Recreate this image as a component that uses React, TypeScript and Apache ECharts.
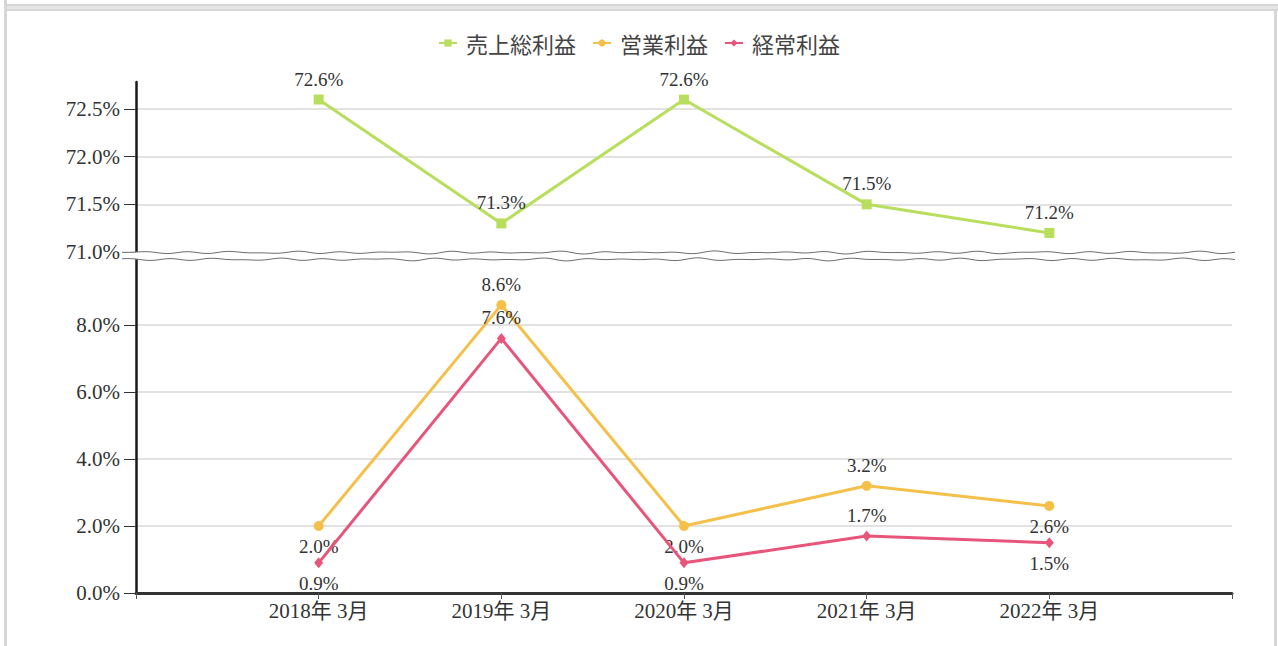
import React, { useEffect, useRef } from "react";
import * as echarts from "echarts";

// ---- data ----
const categories = ["2018年 3月", "2019年 3月", "2020年 3月", "2021年 3月", "2022年 3月"];
const seriesNames = ["売上総利益", "営業利益", "経常利益"];
const grossProfit = [72.6, 71.3, 72.6, 71.5, 71.2];
const operatingProfit = [2.0, 8.6, 2.0, 3.2, 2.6];
const ordinaryProfit = [0.9, 7.6, 0.9, 1.7, 1.5];
const upperTicks = [71.0, 71.5, 72.0, 72.5];
const lowerTicks = [0, 2, 4, 6, 8];

// label placement (style, kept apart from values)
const grossLabelPos = ["top", "top", "top", "top", "top"];
const operatingLabelPos = ["bottom", "top", "bottom", "top", "bottom"];
const ordinaryLabelPos = ["bottom", "top", "bottom", "top", "bottom"];

const COLORS = ["#b7de5c", "#f5c04a", "#e8557a"];
const NUM_FONT = "'Liberation Serif', 'Noto Sans CJK JP', serif";
const CJK_FONT = "'Noto Sans CJK JP', 'Liberation Serif', sans-serif";

// layout
const W = 1278;
const H = 646;
const AXIS_X = 136;
const RIGHT_X = 1232;
const TOP_T = 82;
const TOP_B = 252;
const BOT_T = 258;
const BOT_B = 593;

const pct = (v: number) => v.toFixed(1) + "%";

function padded<T>(arr: T[], fill: T): T[] {
  return [fill, ...arr, fill];
}

function withLabels(values: number[], pos: string[]) {
  return padded(
    values.map((v, i) => ({ value: v, label: { position: pos[i] } })) as any[],
    null as any
  );
}

function wave(y0: number, x0: number, x1: number, phase: number) {
  const pts: number[][] = [];
  for (let x = x0; x <= x1; x += 3) {
    const t = x + phase;
    pts.push([x, y0 + 1.2 * Math.sin(t / 7) * Math.sin(t / 41) + 0.4 * Math.sin(t / 13)]);
  }
  return pts;
}

export default function App() {
  const ref = useRef<HTMLDivElement>(null);
  useEffect(() => {
    document.body.style.margin = "0";
    const chart = echarts.init(ref.current!, null, { renderer: "svg" });
    const xData = padded(categories, "");
    const labelBase = {
      show: true,
      formatter: (p: any) => (p.value == null ? "" : pct(Number(p.value))),
      fontFamily: NUM_FONT,
      fontSize: 19,
      color: "#333",
      distance: 6,
    };
    const upperWave = wave(252.5, 122, 1236, 0);
    const lowerWave = wave(259.4, 122, 1236, 17);
    const band = [...upperWave, ...lowerWave.slice().reverse()];

    const yLabel = {
      formatter: (v: number) => pct(v),
      margin: 16,
      fontFamily: NUM_FONT,
      fontSize: 21,
      color: "#333",
    };

    const option: any = {
      animation: false,
      backgroundColor: "#fff",
      legend: {
        top: 27,
        left: "center",
        itemWidth: 18,
        itemHeight: 9,
        itemGap: 16,
        data: seriesNames,
        textStyle: { fontFamily: CJK_FONT, fontSize: 22, color: "#444", padding: [0, 0, 0, 4] },
      },
      grid: [
        { left: AXIS_X, right: W - RIGHT_X, top: TOP_T, height: TOP_B - TOP_T },
        { left: AXIS_X, right: W - RIGHT_X, top: BOT_T, height: BOT_B - BOT_T },
      ],
      xAxis: [
        {
          type: "category",
          gridIndex: 0,
          data: xData,
          boundaryGap: false,
          show: false,
        },
        {
          type: "category",
          gridIndex: 1,
          data: xData,
          boundaryGap: false,
          axisLine: { show: true, lineStyle: { color: "#333", width: 3 } },
          axisTick: { show: true, length: 6, lineStyle: { color: "#555", width: 1 } },
          axisLabel: {
            interval: 0,
            margin: 7,
            fontFamily: NUM_FONT,
            fontSize: 21,
            color: "#333",
          },
          splitLine: { show: false },
        },
      ],
      yAxis: [
        {
          type: "value",
          gridIndex: 0,
          min: 71,
          max: 72.784,
          interval: 0.5,
          axisLine: { show: true, lineStyle: { color: "#1a1a1a", width: 2.5 } },
          axisTick: {
            show: true,
            length: 12,
            customValues: upperTicks,
            lineStyle: { color: "#333", width: 1 },
          },
          axisLabel: { ...yLabel, customValues: upperTicks },
          splitLine: {
            show: true,
            lineStyle: {
              color: ["rgba(0,0,0,0)", "#d9d9d9", "#d9d9d9", "#d9d9d9", "rgba(0,0,0,0)"],
              width: 1.5,
            },
          },
        },
        {
          type: "value",
          gridIndex: 1,
          min: 0,
          max: 10,
          interval: 2,
          axisLine: { show: true, lineStyle: { color: "#1a1a1a", width: 2.5 } },
          axisTick: {
            show: true,
            length: 12,
            customValues: lowerTicks,
            lineStyle: { color: "#333", width: 1 },
          },
          axisLabel: { ...yLabel, customValues: lowerTicks },
          splitLine: {
            show: true,
            lineStyle: {
              color: ["#d9d9d9", "#d9d9d9", "#d9d9d9", "#d9d9d9", "#d9d9d9", "rgba(0,0,0,0)"],
              width: 1.5,
            },
          },
        },
      ],
      series: [
        {
          name: seriesNames[0],
          type: "line",
          xAxisIndex: 0,
          yAxisIndex: 0,
          data: withLabels(grossProfit, grossLabelPos),
          symbol: "rect",
          symbolSize: 10,
          lineStyle: { color: COLORS[0], width: 3 },
          itemStyle: { color: COLORS[0] },
          label: labelBase,
          z: 3,
        },
        {
          name: seriesNames[1],
          type: "line",
          xAxisIndex: 1,
          yAxisIndex: 1,
          data: withLabels(operatingProfit, operatingLabelPos),
          symbol: "circle",
          symbolSize: 10,
          lineStyle: { color: COLORS[1], width: 3 },
          itemStyle: { color: COLORS[1] },
          label: labelBase,
          z: 3,
        },
        {
          name: seriesNames[2],
          type: "line",
          xAxisIndex: 1,
          yAxisIndex: 1,
          data: withLabels(ordinaryProfit, ordinaryLabelPos),
          symbol: "diamond",
          symbolSize: [9, 11],
          lineStyle: { color: COLORS[2], width: 3 },
          itemStyle: { color: COLORS[2] },
          label: labelBase,
          z: 4,
        },
      ],
      graphic: [
        // page frame
        { type: "rect", silent: true, z: 200, shape: { x: 4, y: 0, width: 3, height: H }, style: { fill: "#d6d6d6" } },
        { type: "rect", silent: true, z: 200, shape: { x: 4, y: 4, width: W - 4, height: 7 }, style: { fill: "#d6d6d6" } },
        { type: "rect", silent: true, z: 201, shape: { x: 7, y: 6, width: W - 7, height: 3 }, style: { fill: "#e6e6e6" } },
        { type: "rect", silent: true, z: 200, shape: { x: 1274, y: 11, width: 3, height: H - 11 }, style: { fill: "#d6d6d6" } },
        // axis break
        { type: "polygon", silent: true, z: 100, shape: { points: band }, style: { fill: "#fff" } },
        { type: "polyline", silent: true, z: 101, shape: { points: upperWave }, style: { stroke: "#6f6f6f", lineWidth: 1, fill: "none" } },
        { type: "polyline", silent: true, z: 101, shape: { points: lowerWave }, style: { stroke: "#6f6f6f", lineWidth: 1, fill: "none" } },
      ],
    };
    chart.setOption(option);
    return () => chart.dispose();
  }, []);
  return (
    <div
      ref={ref}
      style={{ position: "absolute", left: 0, top: 0, width: W, height: H, background: "#fff" }}
    />
  );
}
